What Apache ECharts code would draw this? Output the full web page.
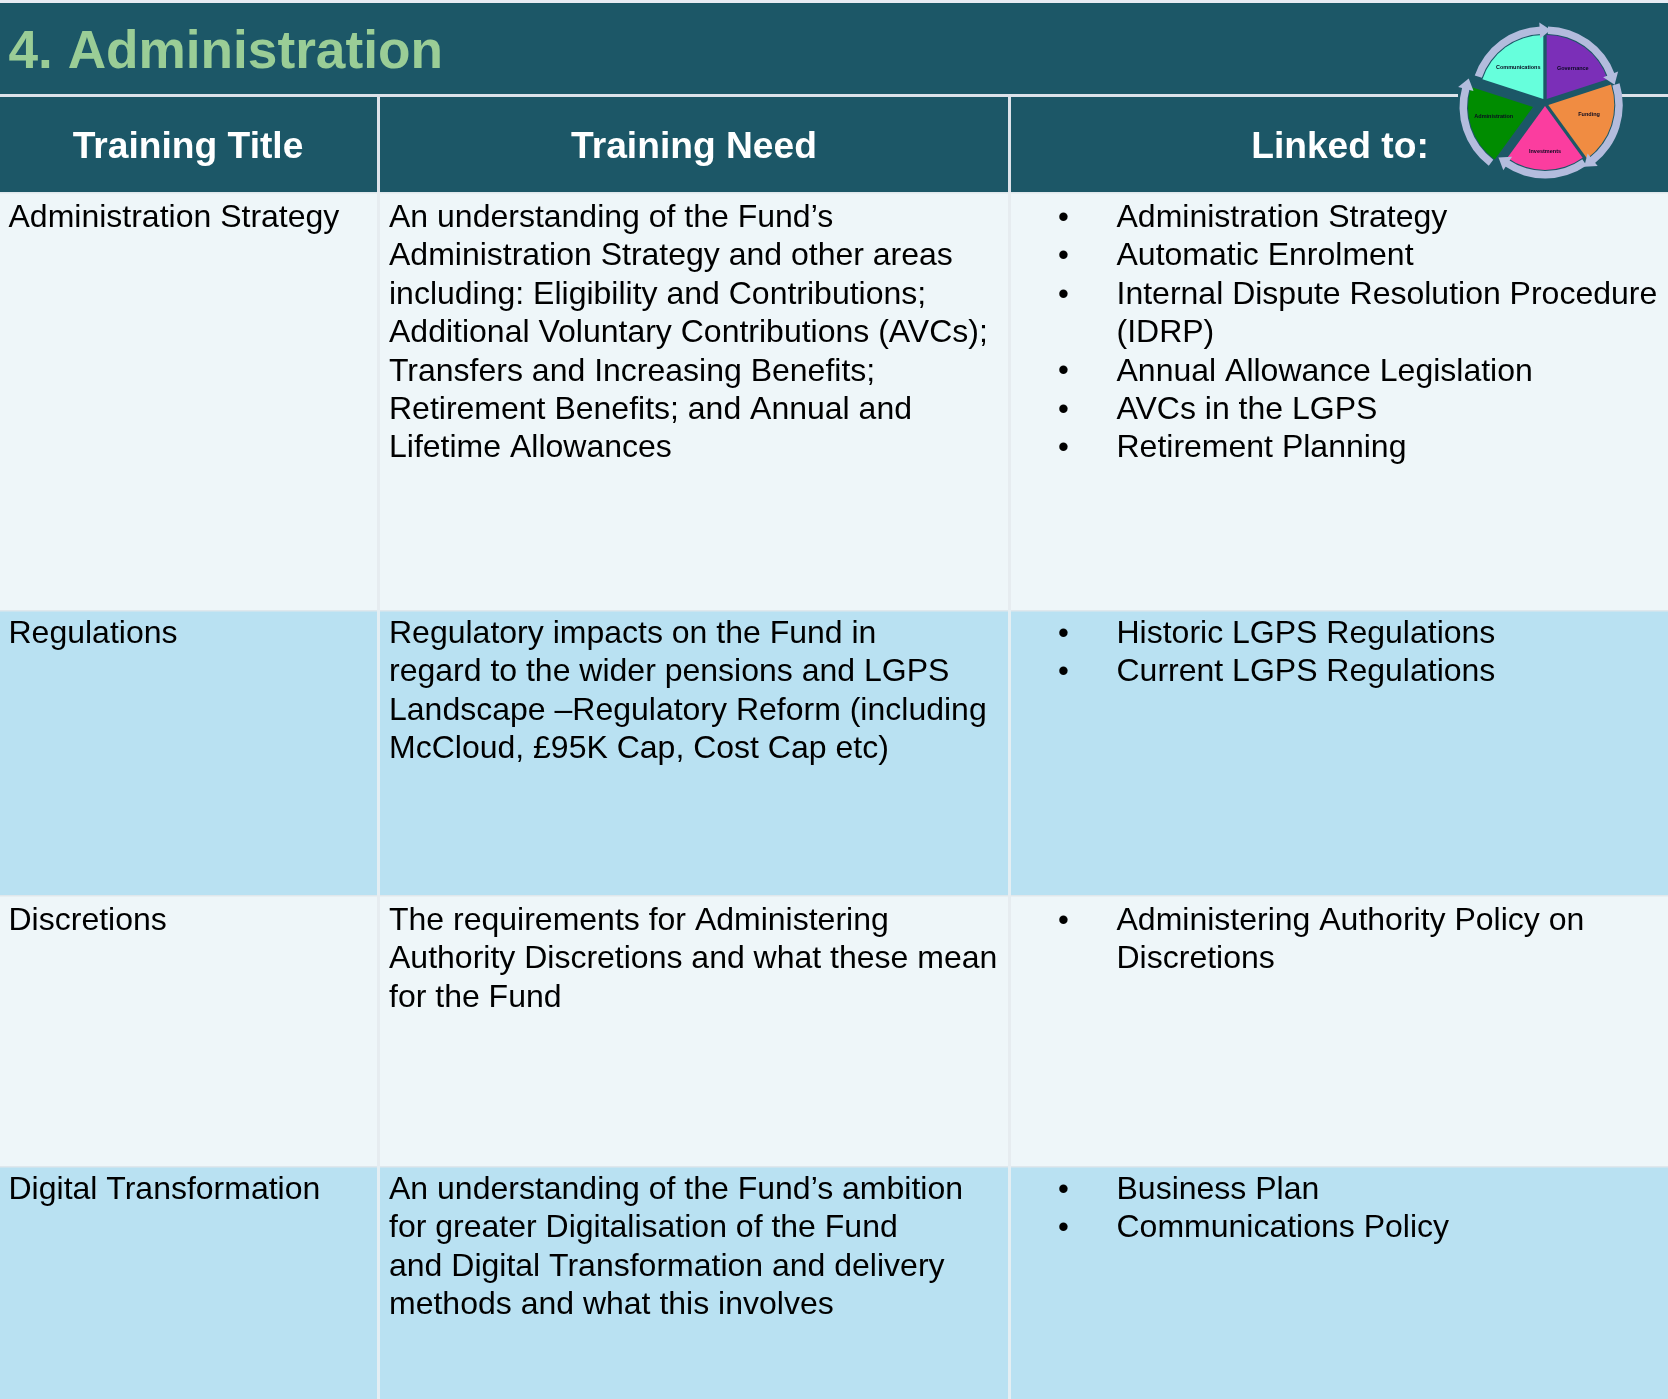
<!DOCTYPE html>
<html><head><meta charset="utf-8">
<style>html,body{margin:0;padding:0;background:#fff}#c{width:1668px;height:1399px}</style>
<script src="https://cdn.jsdelivr.net/npm/echarts@6/dist/echarts.min.js"></script>
</head><body><div id="c"></div>
<script>
const pageTitle = '4. Administration';
const headers = ['Training Title', 'Training Need', 'Linked to:'];
const titles = ['Administration Strategy', 'Regulations', 'Discretions', 'Digital Transformation'];
const needs = [
  ['An understanding of the Fund’s','Administration Strategy and other areas','including: Eligibility and Contributions;','Additional Voluntary Contributions (AVCs);','Transfers and Increasing Benefits;','Retirement Benefits; and Annual and','Lifetime Allowances'],
  ['Regulatory impacts on the Fund in','regard to the wider pensions and LGPS','Landscape –Regulatory Reform (including','McCloud, £95K Cap, Cost Cap etc)'],
  ['The requirements for Administering','Authority Discretions and what these mean','for the Fund'],
  ['An understanding of the Fund’s ambition','for greater Digitalisation of the Fund','and Digital Transformation and delivery','methods and what this involves']
];
const links = [
  [['Administration Strategy'],['Automatic Enrolment'],['Internal Dispute Resolution Procedure','(IDRP)'],['Annual Allowance Legislation'],['AVCs in the LGPS'],['Retirement Planning']],
  [['Historic LGPS Regulations'],['Current LGPS Regulations']],
  [['Administering Authority Policy on','Discretions']],
  [['Business Plan'],['Communications Policy']]
];
const wheelNames = ['Governance','Funding','Investments','Administration','Communications'];
const wheelShares = [72,72,72,72,72];
const wheelColors = ['#7b2fb8','#f08c42','#fb3d9f','#008c00','#66ffdc'];

const rowTops = [192,610,895,1166,1399];
const rowFirst = [218.2,634,921,1190];
const rowFill = ['#eef6f9','#b9e1f2'];
const LH = 38.4;
const g = [];
const rect=(x,y,w,h,fill,z)=>g.push({type:'rect',z:z||0,silent:true,shape:{x,y,width:w,height:h},style:{fill}});
const text=(x,y,t,font,fill,align,z)=>g.push({type:'text',z:z||2,silent:true,x,y,style:{text:t,font,fill,textAlign:align||'left',textVerticalAlign:'middle'}});
const body='32px "Liberation Sans"';
rect(0,0,1668,3,'#e7ebf3');
rect(0,3,1668,189,'#1c5767');
rect(0,94,1668,3,'#dde3ea',1);
rect(1458,92,164,7,'#1c5767',1);
text(8.5,53.5,pageTitle,'bold 53.2px "Liberation Sans"','#9acd96');
[188,694,1340].forEach((x,i)=>text(x,148,headers[i],'bold 37.2px "Liberation Sans"','#ffffff','center'));
for(let r=0;r<4;r++){
  const top=rowTops[r],bot=rowTops[r+1];
  rect(0,top,1668,bot-top,rowFill[r%2]);
  rect(0,top,1668,1.5,'#dfe7ec',1);
  const y0=rowFirst[r];
  text(8.5,y0,titles[r],body,'#000');
  needs[r].forEach((l,i)=>text(389,y0+i*LH,l,body,'#000'));
  let k=0;
  links[r].forEach(item=>{
    text(1063.5,y0+k*LH,'•','31px "Liberation Sans"','#000','center');
    item.forEach(l=>{text(1116.5,y0+k*LH,l,body,'#000');k++;});
  });
}
[378,1009].forEach(x=>{
  rect(x-1,97,3,95,'#dde3ea',1);
  for(let r=0;r<4;r++){rect(x-1,rowTops[r],3,rowTops[r+1]-rowTops[r],r%2?'#e4eef3':'#e6ecf0',1);}
});

const apex=[[1546.7,99],[1548.3,105],[1545,106],[1533,107],[1543.3,99]];
const sliceR=[64,66,64,65,64];
const starts=[90,18,-54,-126,162];
const labelShift=[[5.5,-2],[6.5,-1.5],[0,10],[-5.5,-1.5],[-4.5,-3]];
const series=[];
wheelNames.forEach((n,i)=>{
  const c=apex[i];
  series.push({type:'pie',silent:true,center:c,radius:[sliceR[i]+1,sliceR[i]+8.5],startAngle:starts[i]-1,clockwise:true,avoidLabelOverlap:false,z:3,animation:false,
    data:[{value:wheelShares[i]-3,name:n+' ring',itemStyle:{color:'#b3bcdd'},label:{show:false}},{value:360-wheelShares[i]+3,name:'',itemStyle:{color:'rgba(0,0,0,0)'},label:{show:false}}]});
  series.push({type:'pie',silent:true,center:c,radius:[0,sliceR[i]],startAngle:starts[i],clockwise:true,avoidLabelOverlap:false,z:4,animation:false,
    data:[{value:wheelShares[i],name:n,itemStyle:{color:wheelColors[i]},label:{show:true,position:'inside',offset:labelShift[i],formatter:'{b}',fontSize:5.5,fontWeight:'bold',color:'#0a0a20',fontFamily:'Liberation Sans'}},
          {value:360-wheelShares[i],name:'',itemStyle:{color:'rgba(0,0,0,0)'},label:{show:false}}]});
  const a=(starts[i]-wheelShares[i]+3)*Math.PI/180, rm=sliceR[i]+4.5;
  const px=c[0]+rm*Math.cos(a), py=c[1]-rm*Math.sin(a);
  const tx=Math.sin(a), ty=Math.cos(a), nx=Math.cos(a), ny=-Math.sin(a);
  g.push({type:'polygon',z:5,silent:true,shape:{points:[[px+nx*8,py+ny*8],[px-nx*8,py-ny*8],[px+tx*11,py+ty*11]]},style:{fill:'#b3bcdd'}});
});
const chart=echarts.init(document.getElementById('c'),null,{renderer:'canvas'});
chart.setOption({animation:false,backgroundColor:'#fff',graphic:{elements:g},series});
</script></body></html>
